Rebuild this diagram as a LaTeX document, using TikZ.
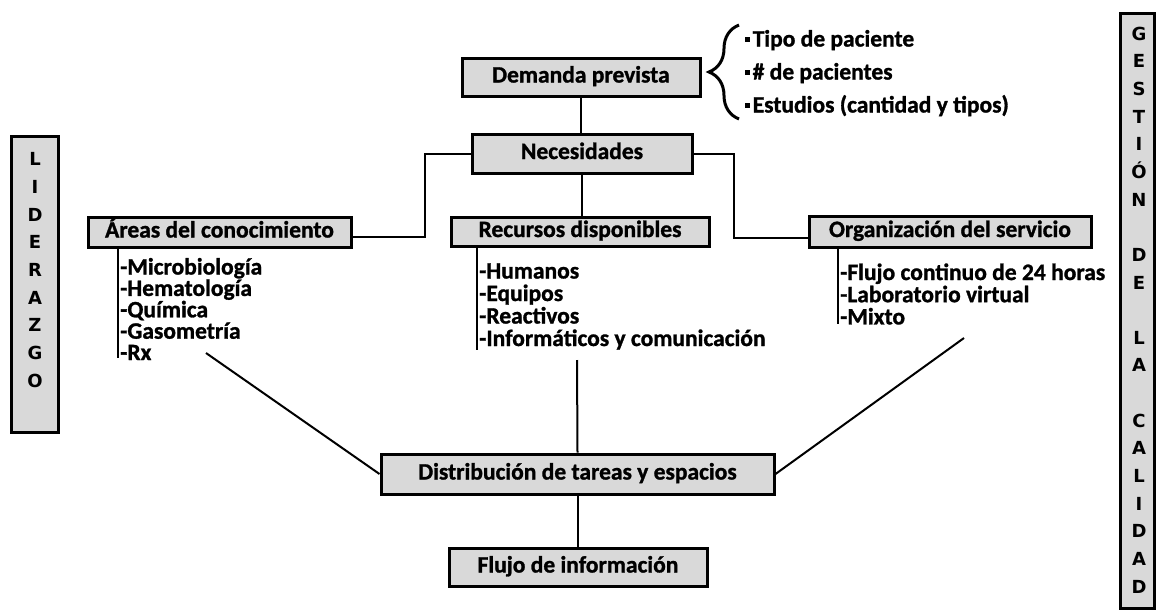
\documentclass[tikz,border=0pt]{standalone}
\usepackage{fontspec}
\setmainfont{Carlito}[BoldFeatures={FakeBold=1.2}]
\newfontfamily\dgletters{DejaVu Sans}
\usetikzlibrary{decorations.pathreplacing}
\newcommand\dgtxt{\fontsize{23.5}{25}\selectfont\bfseries}
\newcommand\dglet{\fontsize{18}{27.65}\selectfont\dgletters\bfseries}
\newcommand\dgbul{\raisebox{5pt}{\rule{4.5pt}{4.5pt}}\kern3pt}
\begin{document}
\begin{tikzpicture}[x=1pt,y=1pt,
  mbox/.style={draw, line width=3pt, fill=gray!30, font=\dgtxt, inner sep=0pt,
    text height=16pt, text depth=5pt},
  sidebox/.style={draw, line width=3pt, fill=gray!30, inner sep=0pt},
  sidetxt/.style={align=center, font=\dglet, inner sep=0pt},
  conn/.style={line width=2pt},
  item/.style={anchor=base west, inner sep=0pt, font=\dgtxt,
    text height=14.5pt, text depth=4pt}]
\useasboundingbox (0,0) rectangle (1156,-613);

% main boxes
\node[mbox, minimum width=238, minimum height=38] (dem) at (581,-77) {Demanda prevista};
\node[mbox, minimum width=220, minimum height=39] (nec) at (582,-153.5) {Necesidades};
\node[mbox, minimum width=258, minimum height=29] (rec) at (580,-231.5) {Recursos disponibles};
\node[mbox, minimum width=263, minimum height=30] (are) at (219.5,-232) {Áreas del conocimiento};
\node[mbox, minimum width=282, minimum height=31] (org) at (950,-231.5) {Organización del servicio};
\node[mbox, minimum width=393, minimum height=40] (dis) at (577.5,-474) {Distribución de tareas y espacios};
\node[mbox, minimum width=258, minimum height=38] (flu) at (578,-567) {Flujo de información};

% side boxes
\node[sidebox, minimum width=47, minimum height=296] (lid) at (34.5,-284) {};
\node[sidetxt] (lidt) at (35,-270) {L\\I\\D\\E\\R\\A\\Z\\G\\O};
\node[sidebox, minimum width=34, minimum height=595] (ges) at (1137,-310.5) {};
\node[sidetxt] (gest) at (1139,-310) {G\\E\\S\\T\\I\\Ó\\N\\[27.65pt]D\\E\\[27.65pt]L\\A\\[27.65pt]C\\A\\L\\I\\D\\A\\D};

% brace and bullets
\draw[decorate, decoration={brace, amplitude=30pt}, line width=3pt] (739,-119) -- (739,-25);
\node[item] (b1) at (745,-46.5) {\dgbul Tipo de paciente};
\node[item] (b2) at (745,-79.5) {\dgbul \# de pacientes};
\node[item] (b3) at (745,-112.5) {\dgbul Estudios (cantidad y tipos)};

% connectors
\draw[conn] (dem.south) -- (dem.south |- nec.north);
\draw[conn] (nec.west) -- ++(-46,0) |- ([yshift=-5pt]are.east);
\draw[conn] (nec.east) -- ++(40,0) |- ([yshift=-6pt]org.west);
\draw[conn] (nec.south) -- (nec.south |- rec.north);

% list lines
\coordinate (aL) at (118,-358);
\coordinate (rL) at (477,-350);
\coordinate (oL) at (838,-324);
\draw[conn] (are.south -| aL) -- (aL);
\draw[conn] (rec.south -| rL) -- (rL);
\draw[conn] (org.south -| oL) -- (oL);

% list items
\node[item] (a1) at (120,-274.5) {-Microbiología};
\node[item] (a2) at (120,-295.9) {-Hematología};
\node[item] (a3) at (120,-317.3) {-Química};
\node[item] (a4) at (120,-338.7) {-Gasometría};
\node[item] (a5) at (120,-360.1) {-Rx};
\node[item] (r1) at (479,-278.5) {-Humanos};
\node[item] (r2) at (479,-301) {-Equipos};
\node[item] (r3) at (479,-323.5) {-Reactivos};
\node[item] (r4) at (479,-346) {-Informáticos y comunicación};
\node[item] (o1) at (840,-280) {-Flujo continuo de 24 horas};
\node[item] (o2) at (840,-302.2) {-Laboratorio virtual};
\node[item] (o3) at (840,-324.4) {-Mixto};

% converging lines
\coordinate (aD) at (206,-353);
\coordinate (oD) at (964,-338);
\coordinate (rD) at (577,-360);
\draw[conn] (aD) -- (dis.west);
\draw[conn] (oD) -- (dis.east);
\draw[conn] (rD) -- (dis.north);
\draw[conn] (dis.south) -- (dis.south |- flu.north);
\end{tikzpicture}
\end{document}
